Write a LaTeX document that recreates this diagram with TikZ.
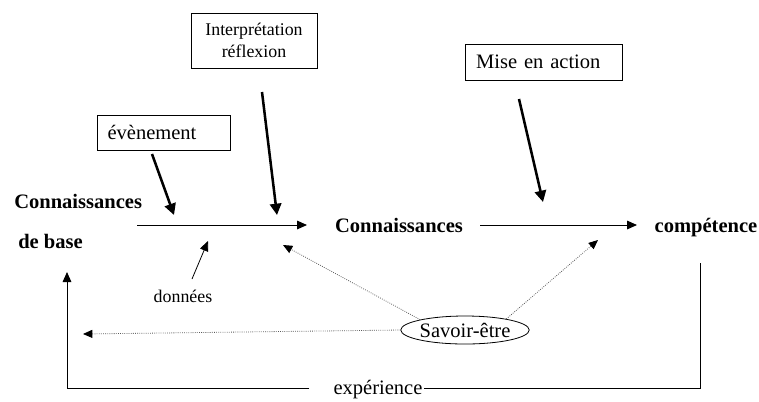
\documentclass[tikz,border=0pt]{standalone}
\usepackage{fontspec}
\setmainfont{Liberation Serif}
\usepackage{tikz}
\usetikzlibrary{arrows.meta}
\usetikzlibrary{shapes.geometric}

\begin{document}
\begin{tikzpicture}[x=0.75pt,y=-0.75pt,
        grand/.style={font=\fontsize{15.4}{18}\selectfont},
        petit/.style={font=\fontsize{13.4}{16}\selectfont},
        gras/.style={font=\fontsize{15.4}{18}\selectfont\bfseries, inner sep=0pt},
        boite/.style={draw, rectangle, inner sep=0pt},
        fleche/.style={-{Triangle[length=7.5pt,width=6.5pt]}, line width=0.75pt},
        epaisse/.style={-{Triangle[length=8.5pt,width=8.5pt]}, line width=1.9pt},
        pointille/.style={-{Triangle[length=7pt,width=6pt,color=black]}, densely dotted, line width=0.6pt, draw=black!65}]
        \useasboundingbox (0,0) rectangle (759,401);
        % boites du haut
        \node[boite, petit, minimum width=94.5pt, minimum height=41.25pt, align=center] (interp) at (254,40.5) {Interprétation\\réflexion};
        \node[boite, grand, minimum width=99.75pt, minimum height=26.25pt, text width=84pt, align=left] (evt) at (163.5,132.5) {évènement};
        \node[boite, grand, minimum width=117.75pt, minimum height=27pt, text width=101pt, align=left] (mise) at (543.5,62) {Mise en action};
        % etats
        \node[gras, anchor=base west] (base1) at (14,208) {Connaissances};
        \node[gras, anchor=base west] (base2) at (18,248) {de base};
        \node[gras, anchor=base] (conn) at (399,232) {Connaissances};
        \node[gras, anchor=base] (comp) at (706,232) {compétence};
        \node[petit, inner sep=0pt, anchor=base] (donnees) at (183,302) {données};
        \node[draw, ellipse, grand, line width=0.6pt, minimum width=94.5pt, minimum height=21pt, inner sep=0pt] (savoir) at (465,330) {Savoir-être};
        \node[grand, inner sep=0pt, anchor=base] (exp) at (378,394) {expérience};
        % points d'attache
        \coordinate (a1) at (137,225);
        \coordinate (a2) at (307,225);
        \coordinate (b1) at (480,225);
        \coordinate (b2) at (637,225);
        \coordinate (e1) at (152,154);
        \coordinate (e2) at (174,215);
        \coordinate (i1) at (262,92);
        \coordinate (i2) at (277,215);
        \coordinate (m1) at (519,99);
        \coordinate (m2) at (543,202);
        \coordinate (d1) at (192,279);
        \coordinate (d2) at (208,241);
        \coordinate (s1) at (283,245);
        \coordinate (s2) at (598,240);
        \coordinate (s3) at (83,334);
        \coordinate (x1) at (700,263);
        \coordinate (x2) at (67,272);
        % fleches
        \draw[fleche] (a1) -- (a2);
        \draw[fleche] (b1) -- (b2);
        \draw[epaisse] (e1) -- (e2);
        \draw[epaisse] (i1) -- (i2);
        \draw[epaisse] (m1) -- (m2);
        \draw[fleche, line width=0.6pt] (d1) -- (d2);
        \draw[pointille] (savoir.167) -- (s1);
        \draw[pointille] (savoir.15) -- (s2);
        \draw[pointille] (savoir.west) -- (s3);
        \draw[line width=0.75pt] (x1) |- ([xshift=1pt]exp.east |- 0,388);
        \draw[fleche] ([xshift=-18pt]exp.west |- 0,388) -| (x2);
\end{tikzpicture}
\end{document}
